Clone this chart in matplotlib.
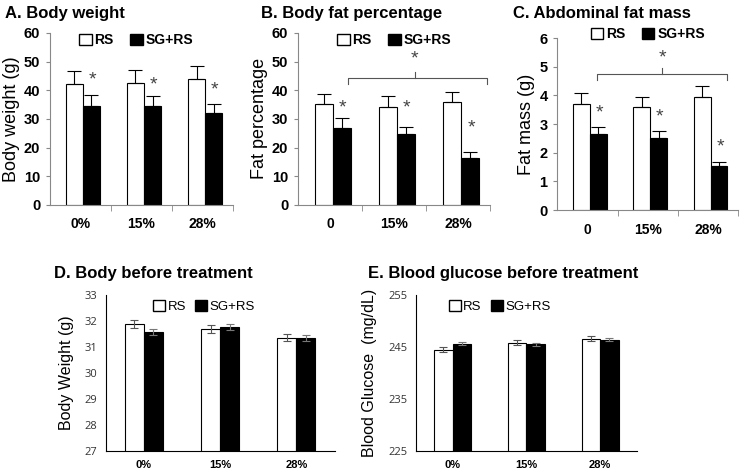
import matplotlib
matplotlib.use("Agg")
import matplotlib.pyplot as plt
from matplotlib.patches import Patch
import numpy as np

plt.rcParams['font.family'] = ['Liberation Sans', 'DejaVu Sans']

# data
groups_top = ['0%', '15%', '28%']
groups_fat = ['0', '15%', '28%']

bw_rs = [42.3, 42.7, 44.0]
bw_rs_err = [4.5, 4.5, 4.5]
bw_sg = [34.5, 34.5, 32.2]
bw_sg_err = [3.7, 3.4, 3.1]
bw_star = [43.7, 42.0, 40.2]

fp_rs = [35.2, 34.1, 35.8]
fp_rs_err = [3.4, 3.8, 3.5]
fp_sg = [27.0, 24.6, 16.5]
fp_sg_err = [3.3, 2.5, 1.8]
fp_star = [33.8, 33.8, 26.8]

fm_rs = [3.69, 3.59, 3.94]
fm_rs_err = [0.39, 0.37, 0.40]
fm_sg = [2.65, 2.52, 1.54]
fm_sg_err = [0.24, 0.23, 0.14]
fm_star = [3.38, 3.26, 2.21]

groups_bot = ['0%', '15%', '28%']
pre_bw_rs = [31.87, 31.68, 31.35]
pre_bw_rs_err = [0.15, 0.15, 0.13]
pre_bw_sg = [31.58, 31.76, 31.35]
pre_bw_sg_err = [0.11, 0.11, 0.12]

pre_bg_rs = [244.5, 245.8, 246.6]
pre_bg_rs_err = [0.5, 0.5, 0.5]
pre_bg_sg = [245.6, 245.5, 246.4]
pre_bg_sg_err = [0.3, 0.3, 0.3]

fig = plt.figure(figsize=(7.45, 4.71), dpi=100)


def top_panel(rect, names, rs, rs_err, sg, sg_err, star_y, ymax, ystep, ylabel, title,
              title_x, leg_xy, bracket=None):
    ax = fig.add_axes(rect)
    x = np.arange(len(names)) + 0.04
    w = 0.28
    ax.bar(x - w / 2, rs, w, color='white', edgecolor='black', linewidth=0.8,
           yerr=[np.zeros(3), rs_err], capsize=5, error_kw=dict(elinewidth=0.8, capthick=0.8))
    ax.bar(x + w / 2, sg, w, color='black', edgecolor='black', linewidth=0.8,
           yerr=[np.zeros(3), sg_err], capsize=5, error_kw=dict(elinewidth=0.8, capthick=0.8))
    for xi, sy in zip(x, star_y):
        ax.text(xi + w / 2 + 0.02, sy, '*', ha='center', va='center',
                fontsize=14, color='#444444')
    ax.set_xlim(-0.5, 2.5)
    ax.set_ylim(0, ymax)
    ax.set_yticks(np.arange(0, ymax + ystep / 2, ystep))
    ax.set_xticks(np.arange(len(names)))
    ax.set_xticklabels(names, fontweight='bold', fontsize=10)
    ax.set_xticks([0.5, 1.5, 2.5], minor=True)
    ax.tick_params(axis='x', which='major', length=0, pad=9)
    ax.tick_params(axis='x', which='minor', length=4, color='#888888')
    ax.tick_params(axis='y', length=3, color='#888888', labelsize=10.5, pad=4)
    for lab in ax.get_yticklabels():
        lab.set_fontweight('bold')
    ax.spines['top'].set_visible(False)
    ax.spines['right'].set_visible(False)
    ax.spines['left'].set_color('#888888')
    ax.spines['bottom'].set_color('#888888')
    ax.set_ylabel(ylabel, fontsize=13, labelpad=3)
    handles = [Patch(facecolor='white', edgecolor='black', label='RS'),
               Patch(facecolor='black', edgecolor='black', label='SG+RS')]
    ax.legend(handles=handles, loc='upper center', ncol=2, frameon=False,
              bbox_to_anchor=leg_xy, handlelength=0.9, handleheight=0.9,
              handletextpad=0.2, columnspacing=1.2,
              prop=dict(weight='bold', size=10))
    if bracket is not None:
        x0, x1, xm, yb, ytip, ys = bracket
        drop = ymax * 0.035
        ax.plot([x0, x0, x1, x1], [yb - drop, yb, yb, yb - drop], color='#555555', lw=0.8)
        ax.plot([xm, xm], [yb, ytip], color='#555555', lw=0.8)
        ax.text(xm, ys, '*', ha='center', va='center', fontsize=14, color='#444444')
    fig.text(title_x, 0.972, title, fontsize=12, fontweight='bold', va='center')
    return ax


top_panel([0.067, 0.565, 0.246, 0.365], groups_top, bw_rs, bw_rs_err, bw_sg, bw_sg_err,
          bw_star, 60, 10, 'Body weight (g)', 'A. Body weight', 0.007, (0.47, 1.07))
top_panel([0.400, 0.565, 0.258, 0.365], groups_fat, fp_rs, fp_rs_err, fp_sg, fp_sg_err,
          fp_star, 60, 10, 'Fat percentage', 'B. Body fat percentage', 0.350, (0.5, 1.07),
          (0.28, 2.45, 1.32, 44.3, 46.3, 50.8))
top_panel([0.748, 0.554, 0.243, 0.365], groups_fat, fm_rs, fm_rs_err, fm_sg, fm_sg_err,
          fm_star, 6, 1, 'Fat mass (g)', 'C. Abdominal fat mass', 0.688, (0.5, 1.135),
          (0.16, 2.32, 1.24, 4.76, 4.95, 5.3))


def bottom_panel(rect, rs, rs_err, sg, sg_err, ylo, yhi, ystep, ylabel, title, title_x,
                 leg_x):
    ax = fig.add_axes(rect)
    x = np.arange(len(groups_bot))
    w = 0.25
    ax.bar(x - w / 2, rs, w, color='white', edgecolor='black', linewidth=0.8,
           yerr=rs_err, capsize=3, ecolor='#555555', error_kw=dict(elinewidth=0.8, capthick=0.8))
    ax.bar(x + w / 2, sg, w, color='black', edgecolor='black', linewidth=0.8,
           yerr=sg_err, capsize=3, ecolor='#777777', error_kw=dict(elinewidth=0.8, capthick=0.8))
    ax.set_xlim(-0.5, 2.5)
    ax.set_ylim(ylo, yhi)
    ax.set_yticks(np.arange(ylo, yhi + ystep / 2, ystep))
    ax.set_xticks(x)
    ax.set_xticklabels(groups_bot, fontweight='bold', fontsize=8)
    ax.tick_params(axis='x', length=0, pad=6)
    ax.tick_params(axis='y', length=0, labelsize=8, labelcolor='#333333', pad=6)
    for lab in ax.get_yticklabels():
        lab.set_family(['Open Sans', 'DejaVu Sans'])
    ax.spines['top'].set_visible(False)
    ax.spines['right'].set_visible(False)
    ax.set_ylabel(ylabel, fontsize=11.5, labelpad=8)
    handles = [Patch(facecolor='white', edgecolor='black', label='RS'),
               Patch(facecolor='black', edgecolor='black', label='SG+RS')]
    ax.legend(handles=handles, loc='upper center', ncol=2, frameon=False,
              bbox_to_anchor=(leg_x, 1.04), handlelength=0.9, handleheight=0.9,
              handletextpad=0.2, columnspacing=0.7, prop=dict(size=9.5))
    fig.text(title_x, 0.42, title, fontsize=12, fontweight='bold', va='center')
    return ax


bottom_panel([0.142, 0.042, 0.307, 0.332], pre_bw_rs, pre_bw_rs_err, pre_bw_sg, pre_bw_sg_err,
             27, 33, 1, 'Body Weight (g)', 'D. Body before treatment', 0.073, 0.43)
bottom_panel([0.558, 0.042, 0.297, 0.332], pre_bg_rs, pre_bg_rs_err, pre_bg_sg, pre_bg_sg_err,
             225, 255, 10, 'Blood Glucose  (mg/dL)', 'E. Blood glucose before treatment',
             0.494, 0.38)

fig.savefig('out.png', dpi=100)
